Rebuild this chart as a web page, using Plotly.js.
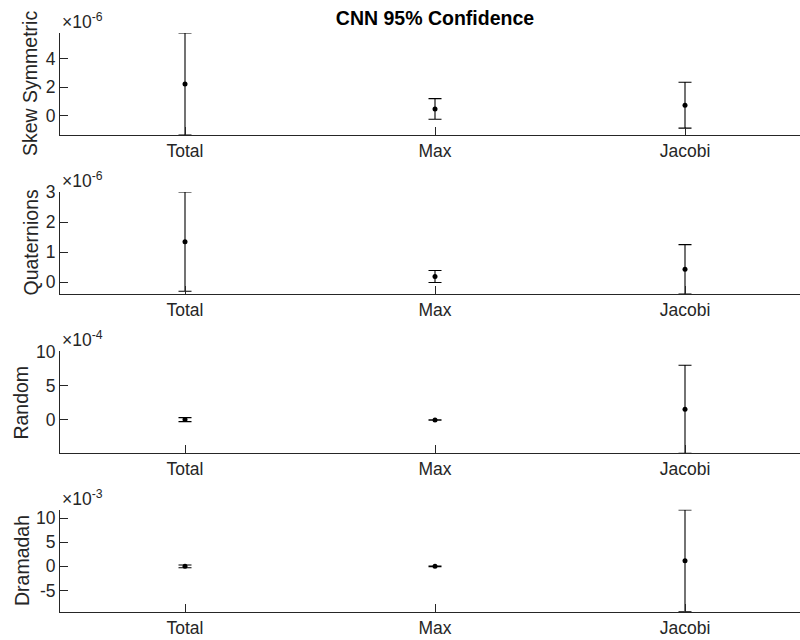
<!DOCTYPE html>
<html>
<head>
<meta charset="utf-8">
<script src="https://cdn.plot.ly/plotly-3.0.1.min.js"></script>
<style>
  html, body { margin: 0; padding: 0; background: #fff; }
  #chart { width: 800px; height: 640px; }
</style>
</head>
<body>
<div id="chart"></div>
<script>
// Categories shared by every panel
const methods = ['Total', 'Max', 'Jacobi'];

// Panel names (y-axis labels)
const panelNames = ['Skew Symmetric', 'Quaternions', 'Random', 'Dramadah'];

// Means and 95% confidence half-widths, per panel
const skewMean = [2.23e-6, 0.49e-6, 0.75e-6];
const skewCI   = [3.56e-6, 0.72e-6, 1.60e-6];

const quatMean = [1.35e-6, 0.19e-6, 0.43e-6];
const quatCI   = [1.65e-6, 0.20e-6, 0.82e-6];

const randMean = [0.05e-4, 0.00e-4, 1.56e-4];
const randCI   = [0.29e-4, 0.03e-4, 6.44e-4];

const dramMean = [0.00e-3, 0.00e-3, 1.17e-3];
const dramCI   = [0.28e-3, 0.05e-3, 10.55e-3];

// Axis scale exponent and tick values (in scaled units) for each panel
const exponents = [-6, -6, -4, -3];
const tickSets  = [[0, 2, 4], [0, 1, 2, 3], [0, 5, 10], [-5, 0, 5, 10]];
const yLimits   = [[-1.33, 5.79], [-0.39, 3.0], [-4.88, 10.05], [-9.4, 11.75]];

const means = [skewMean, quatMean, randMean, dramMean];
const cis   = [skewCI, quatCI, randCI, dramCI];

const W = 800, H = 640;
const plotLeft = 60;
// Panel pixel extents (top, bottom)
const panelPx = [[33, 135], [192, 294], [351.3, 453.3], [509.7, 611.7]];
const labelCenterPx = [30, 30.5, 21.3, 21.3];

const axisColor = '#262626';
const fontFam = 'Liberation Sans, Arial, Helvetica, sans-serif';

const traces = [];
const layout = {
  width: W, height: H,
  margin: { l: plotLeft, r: 0, t: 0, b: 0, pad: 0 },
  paper_bgcolor: '#fff',
  plot_bgcolor: '#fff',
  showlegend: false,
  font: { family: fontFam, color: axisColor },
  title: {
    text: '<b>CNN 95% Confidence</b>',
    font: { family: fontFam, size: 19.5, color: '#000' },
    x: 435 / W, xref: 'container', xanchor: 'center',
    y: 1 - 18 / H, yref: 'container', yanchor: 'middle'
  },
  annotations: []
};

const plotW = W - plotLeft;
const catRange = [-0.5, -0.5 + plotW / 250];

for (let i = 0; i < 4; i++) {
  const n = i === 0 ? '' : String(i + 1);
  const scale = Math.pow(10, exponents[i]);
  const dom = [1 - panelPx[i][1] / H, 1 - panelPx[i][0] / H];

  traces.push({
    type: 'scatter', mode: 'markers',
    x: methods, y: means[i],
    xaxis: 'x' + n, yaxis: 'y' + n,
    marker: { color: '#000', size: 5 },
    error_y: {
      type: 'data', array: cis[i], visible: true,
      color: '#000', thickness: 1.1, width: 6.5
    },
    hoverinfo: 'none', cliponaxis: true
  });

  layout['xaxis' + n] = {
    type: 'category',
    domain: [0, 1],
    anchor: 'y' + n,
    range: catRange,
    showline: true, linecolor: axisColor, linewidth: 1,
    ticks: 'inside', ticklen: 8, tickwidth: 1, tickcolor: axisColor,
    showgrid: false, zeroline: false,
    tickfont: { family: fontFam, size: 17.5, color: axisColor },
    automargin: false, fixedrange: true
  };

  layout['yaxis' + n] = {
    domain: dom,
    anchor: 'x' + n,
    range: yLimits[i].map(v => v * scale),
    tickvals: tickSets[i].map(v => v * scale),
    ticktext: tickSets[i].map(v => String(v)),
    showline: true, linecolor: axisColor, linewidth: 1,
    ticks: 'inside', ticklen: 8, tickwidth: 1, tickcolor: axisColor,
    showgrid: false, zeroline: false,
    tickfont: { family: fontFam, size: 17.5, color: axisColor },
    automargin: false, fixedrange: true
  };

  // Rotated panel label
  layout.annotations.push({
    text: panelNames[i],
    textangle: -90,
    xref: 'paper', yref: 'paper',
    x: (labelCenterPx[i] - plotLeft) / plotW,
    y: (dom[0] + dom[1]) / 2,
    xanchor: 'center', yanchor: 'middle',
    showarrow: false,
    font: { family: fontFam, size: 19.5, color: axisColor }
  });

  // Axis multiplier shown above the y-axis
  layout.annotations.push({
    text: '\u00d710<sup>' + exponents[i] + '</sup>',
    xref: 'paper', yref: 'paper',
    x: 0, y: dom[1],
    xanchor: 'left', yanchor: 'bottom',
    yshift: -1,
    showarrow: false,
    font: { family: fontFam, size: 17.5, color: axisColor }
  });
}

Plotly.newPlot('chart', traces, layout, { displayModeBar: false, staticPlot: true });
</script>
</body>
</html>
